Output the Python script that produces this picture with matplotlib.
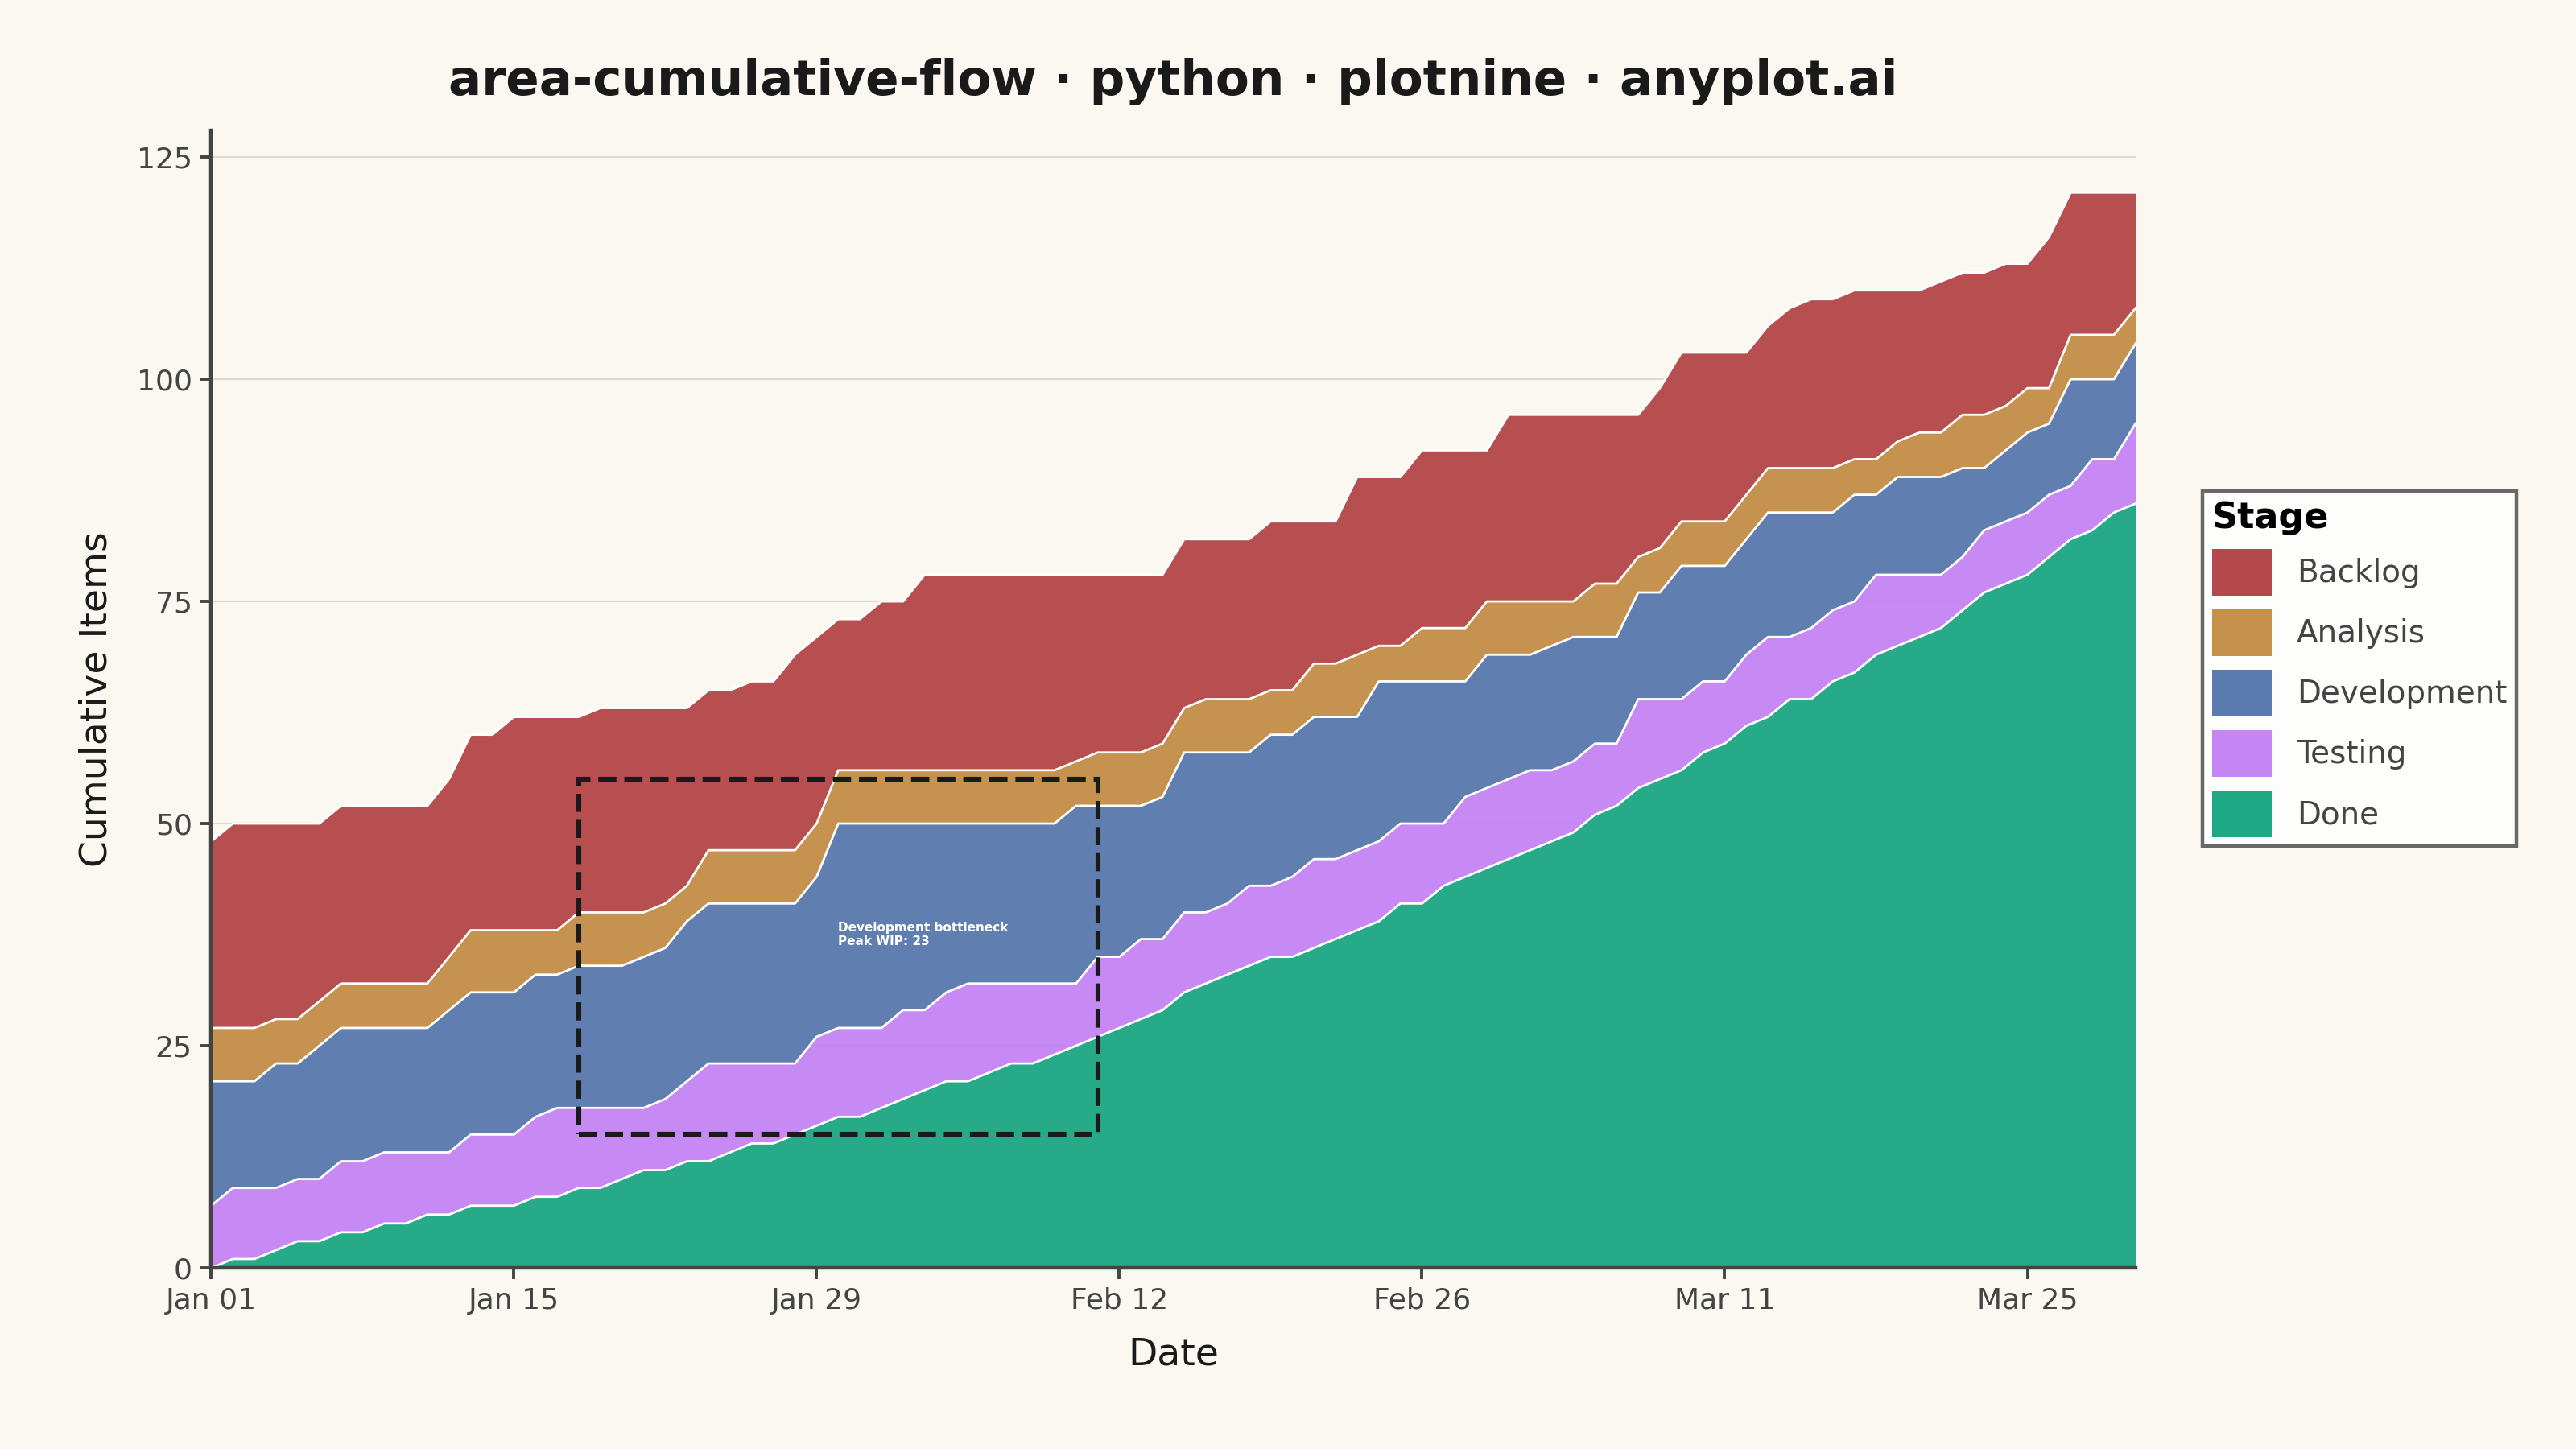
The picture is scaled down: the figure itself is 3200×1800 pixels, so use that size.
import matplotlib
matplotlib.use("Agg")
import matplotlib.pyplot as plt
import matplotlib.dates as mdates
from matplotlib.patches import Patch, Rectangle
import numpy as np
import pandas as pd

# cumulative number of items that have reached each stage, one value per day
dates = pd.date_range("2024-01-01", periods=90, freq="D")
backlog = [48, 50, 50, 50, 50, 50, 52, 52, 52, 52,
           52, 55, 60, 60, 62, 62, 62, 62, 63, 63,
           63, 63, 63, 65, 65, 66, 66, 69, 71, 73,
           73, 75, 75, 78, 78, 78, 78, 78, 78, 78,
           78, 78, 78, 78, 78, 82, 82, 82, 82, 84,
           84, 84, 84, 89, 89, 89, 92, 92, 92, 92,
           96, 96, 96, 96, 96, 96, 96, 99, 103, 103,
           103, 103, 106, 108, 109, 109, 110, 110, 110, 110,
           111, 112, 112, 113, 113, 116, 121, 121, 121, 121]
analysis = [27, 27, 27, 28, 28, 30, 32, 32, 32, 32,
            32, 35, 38, 38, 38, 38, 38, 40, 40, 40,
            40, 41, 43, 47, 47, 47, 47, 47, 50, 56,
            56, 56, 56, 56, 56, 56, 56, 56, 56, 56,
            57, 58, 58, 58, 59, 63, 64, 64, 64, 65,
            65, 68, 68, 69, 70, 70, 72, 72, 72, 75,
            75, 75, 75, 75, 77, 77, 80, 81, 84, 84,
            84, 87, 90, 90, 90, 90, 91, 91, 93, 94,
            94, 96, 96, 97, 99, 99, 105, 105, 105, 108]
development = [21, 21, 21, 23, 23, 25, 27, 27, 27, 27,
               27, 29, 31, 31, 31, 33, 33, 34, 34, 34,
               35, 36, 39, 41, 41, 41, 41, 41, 44, 50,
               50, 50, 50, 50, 50, 50, 50, 50, 50, 50,
               52, 52, 52, 52, 53, 58, 58, 58, 58, 60,
               60, 62, 62, 62, 66, 66, 66, 66, 66, 69,
               69, 69, 70, 71, 71, 71, 76, 76, 79, 79,
               79, 82, 85, 85, 85, 85, 87, 87, 89, 89,
               89, 90, 90, 92, 94, 95, 100, 100, 100, 104]
testing = [7, 9, 9, 9, 10, 10, 12, 12, 13, 13,
           13, 13, 15, 15, 15, 17, 18, 18, 18, 18,
           18, 19, 21, 23, 23, 23, 23, 23, 26, 27,
           27, 27, 29, 29, 31, 32, 32, 32, 32, 32,
           32, 35, 35, 37, 37, 40, 40, 41, 43, 43,
           44, 46, 46, 47, 48, 50, 50, 50, 53, 54,
           55, 56, 56, 57, 59, 59, 64, 64, 64, 66,
           66, 69, 71, 71, 72, 74, 75, 78, 78, 78,
           78, 80, 83, 84, 85, 87, 88, 91, 91, 95]
done = [0, 1, 1, 2, 3, 3, 4, 4, 5, 5,
        6, 6, 7, 7, 7, 8, 8, 9, 9, 10,
        11, 11, 12, 12, 13, 14, 14, 15, 16, 17,
        17, 18, 19, 20, 21, 21, 22, 23, 23, 24,
        25, 26, 27, 28, 29, 31, 32, 33, 34, 35,
        35, 36, 37, 38, 39, 41, 41, 43, 44, 45,
        46, 47, 48, 49, 51, 52, 54, 55, 56, 58,
        59, 61, 62, 64, 64, 66, 67, 69, 70, 71,
        72, 74, 76, 77, 78, 80, 82, 83, 85, 86]

stages = ["Backlog", "Analysis", "Development", "Testing", "Done"]
colors = ["#B5484A", "#C4904A", "#5B7AAE", "#C685F5", "#1FA884"]
bottleneck = (17, 41, 15, 55)  # day start, day end, y low, y high

bg = "#FAF8F1"
fig = plt.figure(figsize=(16, 9), dpi=200, facecolor=bg)
ax = fig.add_axes([0.082, 0.125, 0.747, 0.785], facecolor=bg)

layers = [backlog, analysis, development, testing, done]
for i, (name, top) in enumerate(zip(stages, layers)):
    lower = layers[i + 1] if i + 1 < len(layers) else np.zeros(len(dates))
    ax.fill_between(dates, lower, top, color=colors[i], alpha=0.97, linewidth=0)
    ax.plot(dates, top, color="white", linewidth=1.0)

x0 = dates[bottleneck[0]]
x1 = dates[bottleneck[1]]
ax.add_patch(Rectangle((mdates.date2num(x0), bottleneck[2]),
                       mdates.date2num(x1) - mdates.date2num(x0),
                       bottleneck[3] - bottleneck[2],
                       fill=False, edgecolor="#1a1a1a", linestyle="--", linewidth=2.2, zorder=5))
ax.text(dates[29], 37.5, "Development bottleneck\nPeak WIP: 23", color="white",
        fontsize=5.5, fontweight="bold", va="center", ha="left", zorder=6)

ax.set_xlim(dates[0], dates[-1])
ax.set_ylim(0, 128)
ax.set_yticks([0, 25, 50, 75, 100, 125])
ax.set_xticks(dates[::14])
ax.xaxis.set_major_formatter(mdates.DateFormatter("%b %d"))
ax.grid(axis="y", color="#dddad2", linewidth=0.8)
ax.set_axisbelow(True)
for s in ["top", "right"]:
    ax.spines[s].set_visible(False)
for s in ["left", "bottom"]:
    ax.spines[s].set_color("#444444")
    ax.spines[s].set_linewidth(1.6)
ax.tick_params(labelsize=13, colors="#444444", length=5, width=1.4)
ax.set_xlabel("Date", fontsize=17, color="#1a1a1a", labelpad=10)
ax.set_ylabel("Cumulative Items", fontsize=17, color="#1a1a1a", labelpad=10)
ax.set_title("area-cumulative-flow · python · plotnine · anyplot.ai", fontsize=22,
             fontweight="bold", color="#1a1a1a", pad=16)

handles = [Patch(facecolor=c, edgecolor="none") for c in colors]
leg = fig.legend(handles, stages, title="Stage", loc="upper left", bbox_to_anchor=(0.849, 0.672),
                 fontsize=14, title_fontsize=16, frameon=True, fancybox=False,
                 handlelength=1.9, handleheight=1.9, labelspacing=0.45, alignment="left",
                 borderpad=0.3)
leg.get_title().set_fontweight("bold")
leg.get_frame().set_edgecolor("#444444")
leg.get_frame().set_linewidth(1.6)
leg.get_frame().set_facecolor("white")
for t in leg.get_texts():
    t.set_color("#444444")

fig.savefig("out.png", dpi=200, facecolor=bg)
